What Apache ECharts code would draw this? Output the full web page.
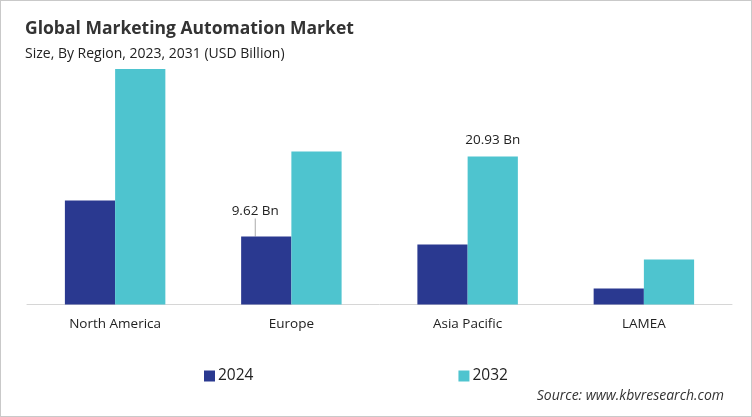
<!DOCTYPE html>
<html>
<head>
<meta charset="utf-8">
<script src="https://cdn.jsdelivr.net/npm/echarts@6/dist/echarts.min.js"></script>
<style>
html,body{margin:0;padding:0;background:#fff;}
#c{width:752px;height:417px;box-sizing:border-box;border:1px solid #c9c9c9;}
</style>
</head>
<body>
<div id="c"></div>
<script>
const categories = ['North America', 'Europe', 'Asia Pacific', 'LAMEA'];
const series2024 = [14.7, 9.62, 8.5, 2.25];
const series2032 = [33.3, 21.65, 20.93, 6.35];
const seriesNames = ['2024', '2032'];
const labelIndex2024 = 1;
const labelIndex2032 = 2;

const chart = echarts.init(document.getElementById('c'), null, {renderer: 'canvas'});
const font = 'Open Sans';

function withLabel(values, idx, cfg) {
  return values.map((v, i) => i === idx ? Object.assign({value: v}, cfg) : v);
}

chart.setOption({
  animation: false,
  textStyle: {fontFamily: font},
  title: [
    {text: 'Global Marketing Automation Market', left: 19, top: 14,
     textStyle: {fontFamily: font, fontSize: 17.5, fontWeight: 'bold', color: '#333'}},
    {text: 'Size, By Region, 2023, 2031 (USD Billion)', left: 19, top: 41,
     textStyle: {fontFamily: font, fontSize: 14, fontWeight: 'normal', color: '#222'}},
    {text: 'Source: www.kbvresearch.com', right: 22, top: 383,
     textStyle: {fontFamily: font, fontSize: 14, fontStyle: 'italic', fontWeight: 'normal', color: '#333'}}
  ],
  legend: {
    data: seriesNames, left: 198, top: 362, itemWidth: 11, itemHeight: 11, itemGap: 205,
    icon: 'rect',
    textStyle: {fontFamily: font, fontSize: 15.5, color: '#222', padding: [0, 0, 0, -2]}
  },
  grid: {left: 26, width: 705, top: 56, height: 247.5, containLabel: false},
  xAxis: {
    type: 'category', data: categories,
    axisLine: {lineStyle: {color: '#d6d6d6'}},
    axisTick: {show: false},
    axisLabel: {fontFamily: font, fontSize: 13.5, color: '#222', margin: 13}
  },
  yAxis: {type: 'value', min: 0, max: 35, show: false, splitLine: {show: false}},
  series: [
    {
      name: seriesNames[0], type: 'bar', barGap: '0%', barCategoryGap: '43%',
      itemStyle: {color: '#2a3990'},
      data: withLabel(series2024, labelIndex2024, {
        label: {show: true, position: 'top', formatter: '{c} Bn', distance: 5,
                fontFamily: font, fontSize: 13.5, color: '#222'},
        labelLine: {show: true, lineStyle: {color: '#aaa', width: 1}}
      }),
      labelLayout: function (p) {
        return p.dataIndex === labelIndex2024 ? {dx: -11, dy: -13} : {};
      },
      labelLine: {show: true, lineStyle: {color: '#aaa', width: 1}}
    },
    {
      name: seriesNames[1], type: 'bar',
      itemStyle: {color: '#4ec4cf'},
      data: withLabel(series2032, labelIndex2032, {
        label: {show: true, position: 'top', formatter: '{c} Bn', distance: 9,
                fontFamily: font, fontSize: 13.5, color: '#222'}
      })
    }
  ]
});
</script>
</body>
</html>
